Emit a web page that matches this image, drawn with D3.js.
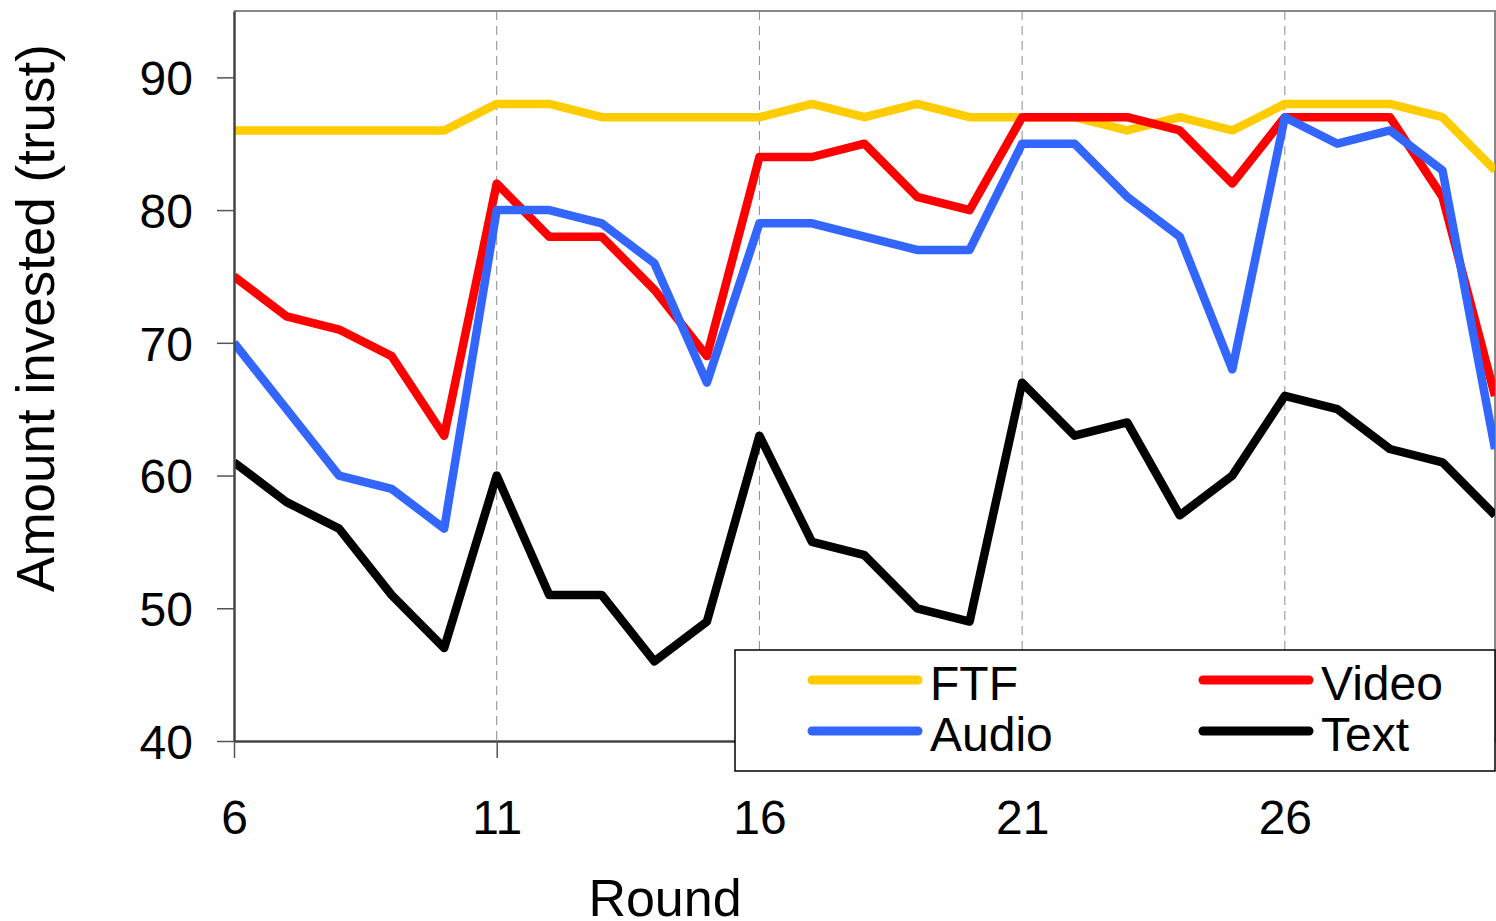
<!DOCTYPE html>
<html>
<head>
<meta charset="utf-8">
<script src="https://cdn.jsdelivr.net/npm/d3@7"></script>
<style>
    html, body { margin: 0; padding: 0; background: #fff; }
    svg { display: block; font-family: "Liberation Sans", Arial, sans-serif; }
</style>
</head>
<body>
<div id="chart"></div>
<script>
"use strict";

const rounds = d3.range(6, 31);
const xTicks = [6, 11, 16, 21, 26];
const yTicks = [40, 50, 60, 70, 80, 90];

const seriesNames = ["FTF", "Video", "Audio", "Text"];
const seriesColors = ["#ffcc00", "#ff0000", "#3366ff", "#000000"];

const ftf = [86, 86, 86, 86, 86, 88, 88, 87, 87, 87, 87, 88, 87, 88, 87, 87, 87, 86, 87, 86, 88, 88, 88, 87, 83];
const video = [75, 72, 71, 69, 63, 82, 78, 78, 74, 69, 84, 84, 85, 81, 80, 87, 87, 87, 86, 82, 87, 87, 87, 81, 66];
const audio = [70, 65, 60, 59, 56, 80, 80, 79, 76, 67, 79, 79, 78, 77, 77, 85, 85, 81, 78, 68, 87, 85, 86, 83, 62];
const text = [61, 58, 56, 51, 47, 60, 51, 51, 46, 49, 63, 55, 54, 50, 49, 67, 63, 64, 57, 60, 66, 65, 62, 61, 57];

const seriesValues = [ftf, video, audio, text];

const width = 1496;
const height = 921;
const plot = { left: 234, right: 1495, top: 11, bottom: 741 };

function renderChart() {
    const svg = d3
        .select("#chart")
        .append("svg")
        .attr("width", width)
        .attr("height", height);

    const xScale = d3.scaleLinear().domain([6, 30]).range([plot.left, plot.right]);
    const yScale = d3.scaleLinear().domain([40, 95]).range([plot.bottom, plot.top]);

    svg.append("defs")
        .append("clipPath")
        .attr("id", "plot-clip")
        .append("rect")
        .attr("x", plot.left)
        .attr("y", plot.top)
        .attr("width", plot.right - plot.left)
        .attr("height", plot.bottom - plot.top);

    // dashed vertical grid
    svg.append("g")
        .selectAll("line")
        .data(xTicks.slice(1))
        .enter()
        .append("line")
        .attr("x1", d => xScale(d))
        .attr("x2", d => xScale(d))
        .attr("y1", plot.top)
        .attr("y2", plot.bottom)
        .attr("stroke", "#8c8c8c")
        .attr("stroke-width", 1)
        .attr("stroke-dasharray", "9,6");

    // top and right border
    svg.append("path")
        .attr("d", `M${plot.left},${plot.top}H${plot.right}V${plot.bottom}`)
        .attr("fill", "none")
        .attr("stroke", "#888")
        .attr("stroke-width", 2);

    // lines
    const line = d3
        .line()
        .x((_, i) => xScale(rounds[i]))
        .y(d => yScale(d));

    svg.append("g")
        .attr("clip-path", "url(#plot-clip)")
        .selectAll("path")
        .data(seriesValues)
        .enter()
        .append("path")
        .attr("d", d => line(d))
        .attr("fill", "none")
        .attr("stroke", (_, i) => seriesColors[i])
        .attr("stroke-width", 8.5)
        .attr("stroke-linejoin", "round");

    // X axis
    const xAxis = d3
        .axisBottom(xScale)
        .tickValues(xTicks)
        .tickSizeInner(17)
        .tickSizeOuter(0)
        .tickPadding(42)
        .tickFormat(d3.format("d"));

    const gx = svg.append("g")
        .attr("transform", `translate(0, ${plot.bottom})`)
        .call(xAxis);
    gx.select(".domain").attr("stroke", "#444").attr("stroke-width", 2.5);
    gx.selectAll(".tick line").attr("stroke", "#555").attr("stroke-width", 1.5);
    gx.selectAll(".tick text")
        .attr("font-size", 48)
        .attr("fill", "#000")
        .attr("font-family", "Liberation Sans, Arial, sans-serif");

    // Y axis
    const yAxis = d3
        .axisLeft(yScale)
        .tickValues(yTicks)
        .tickSizeInner(17)
        .tickSizeOuter(0)
        .tickPadding(24);

    const gy = svg.append("g")
        .attr("transform", `translate(${plot.left}, 0)`)
        .call(yAxis);
    gy.select(".domain").attr("stroke", "#444").attr("stroke-width", 2.5);
    gy.selectAll(".tick line").attr("stroke", "#555").attr("stroke-width", 1.5);
    gy.selectAll(".tick text")
        .attr("font-size", 48)
        .attr("fill", "#000")
        .attr("dy", "0.36em")
        .attr("font-family", "Liberation Sans, Arial, sans-serif");

    // axis titles
    svg.append("text")
        .attr("x", 665)
        .attr("y", 916)
        .attr("text-anchor", "middle")
        .attr("font-size", 52)
        .text("Round");

    svg.append("text")
        .attr("transform", "translate(54, 318) rotate(-90)")
        .attr("text-anchor", "middle")
        .attr("font-size", 53)
        .text("Amount invested (trust)");

    // legend
    const legend = svg.append("g");
    legend.append("rect")
        .attr("x", 735)
        .attr("y", 650)
        .attr("width", 760)
        .attr("height", 121)
        .attr("fill", "#fff")
        .attr("stroke", "#000")
        .attr("stroke-width", 1.5);

    const legendPos = [
        { x: 812, y: 680 },
        { x: 1203, y: 680 },
        { x: 812, y: 731 },
        { x: 1203, y: 731 },
    ];

    const items = legend
        .selectAll("g.item")
        .data(seriesNames)
        .enter()
        .append("g")
        .attr("class", "item")
        .attr("transform", (_, i) => `translate(${legendPos[i].x}, ${legendPos[i].y})`);

    items.append("line")
        .attr("x1", 0)
        .attr("x2", 106)
        .attr("stroke", (_, i) => seriesColors[i])
        .attr("stroke-width", 9)
        .attr("stroke-linecap", "round");

    items.append("text")
        .attr("x", 118)
        .attr("y", 20)
        .attr("font-size", 48)
        .text(d => d);
}

document.addEventListener("DOMContentLoaded", renderChart);
</script>
</body>
</html>
